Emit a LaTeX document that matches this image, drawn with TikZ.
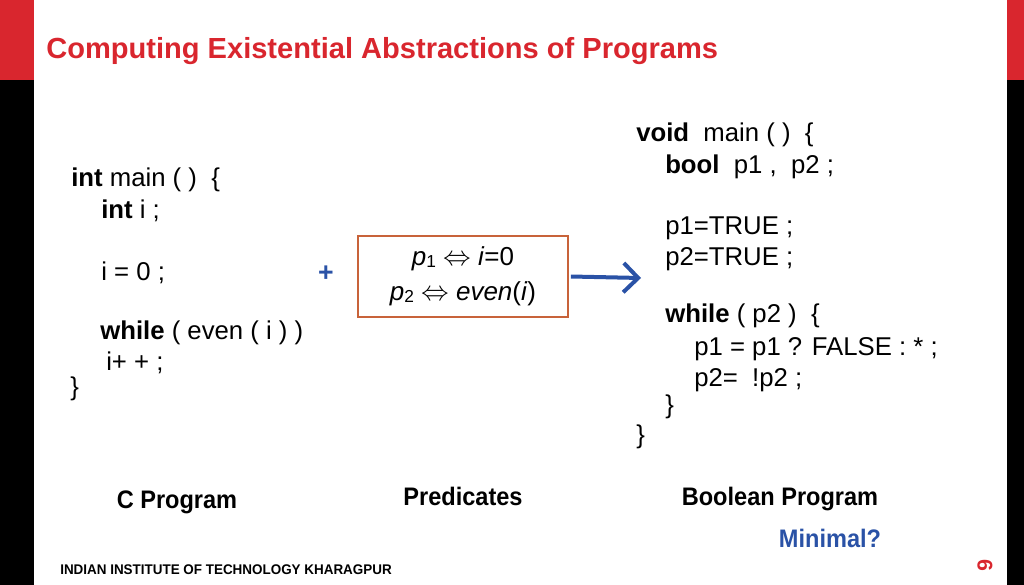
\documentclass[tikz,border=0pt]{standalone}
\usepackage{fontspec}
\setmainfont{Liberation Sans}
\usetikzlibrary{arrows.meta}
\definecolor{slred}{HTML}{D9262E}
\definecolor{slblue}{HTML}{2A52A6}
\definecolor{boxc}{HTML}{C8633A}
\newcommand{\psub}[1]{\raisebox{-1.5pt}{\fontsize{13}{13}\selectfont #1}}
\begin{document}
\begin{tikzpicture}[x=0.75pt,y=-0.75pt,
  code/.style={anchor=base west,inner sep=0pt,font=\fontsize{19.3}{22}\selectfont},
  lab/.style={anchor=base,inner sep=0pt,font=\fontsize{19}{22}\selectfont\bfseries}]
\useasboundingbox (0,0) rectangle (1024,585);
\fill[slred] (0,0) rectangle (34,80);
\fill[black] (0,80) rectangle (34,585);
\fill[slred] (1007,0) rectangle (1024,80);
\fill[black] (1007,80) rectangle (1024,585);
\node[anchor=base west,inner sep=0pt,text=slred,font=\fontsize{21.8}{26}\selectfont\bfseries] (title) at (46,59) {Computing Existential Abstractions of Programs};
% C program
\node[code] (c1) at (71,186) {\textbf{int} main ( )\ \ \{};
\node[code] (c2) at (101,218) {\textbf{int} i ;};
\node[code] (c3) at (101,280) {i = 0 ;};
\node[code] (c4) at (100,339) {\textbf{while} ( even ( i ) )};
\node[code] (c5) at (106,370) {i+ + ;};
\node[code] (c6) at (70,395) {\}};
% Boolean program
\node[code] (b1) at (636,141) {\textbf{void}\ \ main ( )\ \ \{};
\node[code] (b2) at (665,173) {\textbf{bool}\ \ p1 ,\ \ p2 ;};
\node[code] (b3) at (665,234) {p1=TRUE ;};
\node[code] (b4) at (665,265) {p2=TRUE ;};
\node[code] (b5) at (665,322) {\textbf{while} ( p2 )\ \ \{};
\node[code] (b6) at (694,355) {p1 = p1 ? FALSE : * ;};
\node[code] (b7) at (694,386) {p2=\ \ !p2 ;};
\node[code] (b8) at (665,413) {\}};
\node[code] (b9) at (636,443) {\}};
% predicates
\node[draw=boxc,line width=1.3pt,minimum width=157.5pt,minimum height=60.75pt,inner sep=0pt,align=center,
  font=\fontsize{19.5}{26}\selectfont] (pred) at (463,276.5)
  {\textit{p}\psub{1} $\Leftrightarrow$ \textit{i}=0\\ \textit{p}\psub{2} $\Leftrightarrow$ \textit{even}(\textit{i})};
\node[text=slblue,font=\fontsize{20}{22}\selectfont\bfseries] (plus) at (326,274) {+};
\coordinate (arrend) at (641,278);
\draw[slblue,line width=3pt,-{Straight Barb[length=11pt,width=22pt,line width=3pt]}] (pred.east) ++(2,0) -- (arrend);
\node[lab] (l1) at (177,508) {\scalebox{0.93}[1]{C Program}};
\node[lab] (l2) at (463,505) {\scalebox{0.93}[1]{Predicates}};
\node[lab] (l3) at (780,505) {\scalebox{0.93}[1]{Boolean Program}};
\node[lab,text=slblue] (l4) at (830,547) {\scalebox{0.93}[1]{Minimal?}};
\node[anchor=base west,inner sep=0pt,font=\fontsize{10.5}{12}\selectfont\bfseries] (foot) at (60,574) {\scalebox{0.96}[1]{INDIAN INSTITUTE OF TECHNOLOGY KHARAGPUR}};
\node[rotate=-90,text=slred,font=\fontsize{16}{18}\selectfont\bfseries] (pg) at (985,565) {6};
\end{tikzpicture}
\end{document}
